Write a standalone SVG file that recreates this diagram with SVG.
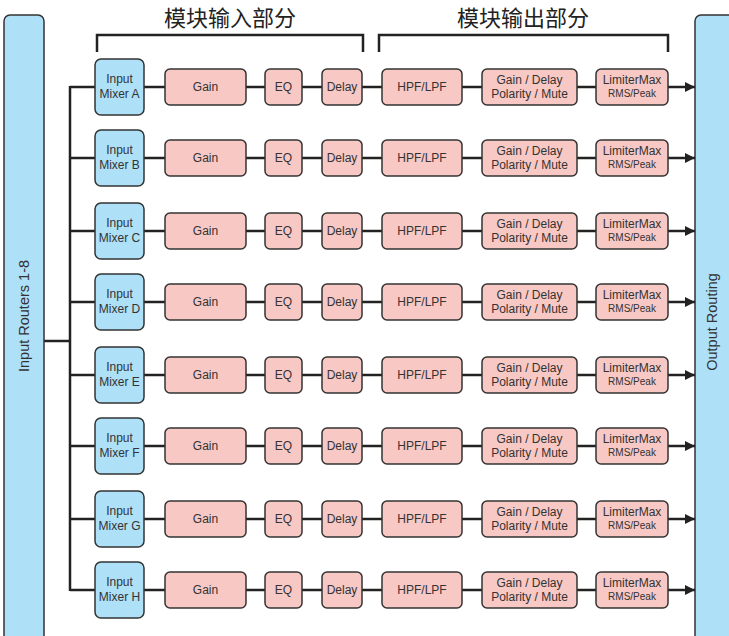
<svg xmlns="http://www.w3.org/2000/svg" width="729" height="636" viewBox="0 0 729 636">
<defs>
<style>
.blue{fill:#aee0f8;stroke:#333;stroke-width:1.5}
.pink{fill:#f8c8c4;stroke:#333;stroke-width:1.5}
.t{font-family:"Liberation Sans",Arial,sans-serif;font-size:12px;fill:#333;text-anchor:middle}
.s{font-size:10px}
.big{font-family:"Noto Sans CJK SC","Noto Sans CJK TC",sans-serif;font-size:22px;fill:#222;text-anchor:middle}
.side{font-family:"Liberation Sans",Arial,sans-serif;font-size:14.5px;fill:#333;text-anchor:middle}
.ln{stroke:#222;stroke-width:2.5;fill:none}
</style>
<marker id="ah" viewBox="0 0 10 10" refX="10" refY="5" markerWidth="4" markerHeight="4" markerUnits="strokeWidth" orient="auto"><path d="M0,0L10,5L0,10z" fill="#222"/></marker>
<g id="row">
<line class="ln" x1="70" y1="0" x2="95" y2="0"/>
<line class="ln" x1="144" y1="0" x2="165" y2="0"/>
<line class="ln" x1="246" y1="0" x2="265" y2="0"/>
<line class="ln" x1="302" y1="0" x2="322" y2="0"/>
<line class="ln" x1="362" y1="0" x2="382" y2="0"/>
<line class="ln" x1="462" y1="0" x2="482" y2="0"/>
<line class="ln" x1="577" y1="0" x2="596" y2="0"/>
<line class="ln" x1="668" y1="0" x2="695" y2="0" marker-end="url(#ah)"/>
<rect class="pink" x="165" y="-18" width="81" height="36" rx="5"/>
<text class="t" x="205.5" y="4">Gain</text>
<rect class="pink" x="265" y="-18" width="37" height="36" rx="5"/>
<text class="t" x="283.5" y="4">EQ</text>
<rect class="pink" x="322" y="-18" width="40" height="36" rx="5"/>
<text class="t" x="342" y="4">Delay</text>
<rect class="pink" x="382" y="-18" width="80" height="36" rx="5"/>
<text class="t" x="422" y="4">HPF/LPF</text>
<rect class="pink" x="482" y="-18" width="95" height="36" rx="5"/>
<text class="t" x="529.5" y="-3">Gain / Delay</text>
<text class="t" x="529.5" y="11">Polarity / Mute</text>
<rect class="pink" x="596" y="-18" width="72" height="36" rx="5"/>
<text class="t" x="632" y="-3">LimiterMax</text>
<text class="t s" x="632" y="10">RMS/Peak</text>
</g>
</defs>
<g id="title-in"><text class="big" x="230" y="26">模块输入部分</text><path class="ln" d="M97,52V35H363V52"/></g>
<g id="title-out"><text class="big" x="523" y="26">模块输出部分</text><path class="ln" d="M379,52V35H668V52"/></g>
<g id="connectors">
<line class="ln" x1="70" y1="86" x2="70" y2="591"/>
<line class="ln" x1="44" y1="341" x2="70" y2="341"/>
</g>
<g id="input-routers"><rect class="blue" x="4" y="15" width="40" height="640" rx="6"/>
<text class="side" transform="translate(29,316) rotate(-90)">Input Routers 1-8</text></g>
<g id="output-routing"><rect class="blue" x="695" y="15" width="50" height="640" rx="6"/>
<text class="side" transform="translate(717,322) rotate(-90)">Output Routing</text></g>
<g id="row-a"><use href="#row" y="87"/><rect class="blue" x="95" y="59" width="49" height="56" rx="6"/><text class="t" x="119.5" y="83">Input</text><text class="t" x="119.5" y="98">Mixer A</text></g>
<g id="row-b"><use href="#row" y="158"/><rect class="blue" x="95" y="130" width="49" height="56" rx="6"/><text class="t" x="119.5" y="154">Input</text><text class="t" x="119.5" y="169">Mixer B</text></g>
<g id="row-c"><use href="#row" y="231"/><rect class="blue" x="95" y="203" width="49" height="56" rx="6"/><text class="t" x="119.5" y="227">Input</text><text class="t" x="119.5" y="242">Mixer C</text></g>
<g id="row-d"><use href="#row" y="302"/><rect class="blue" x="95" y="274" width="49" height="56" rx="6"/><text class="t" x="119.5" y="298">Input</text><text class="t" x="119.5" y="313">Mixer D</text></g>
<g id="row-e"><use href="#row" y="375"/><rect class="blue" x="95" y="347" width="49" height="56" rx="6"/><text class="t" x="119.5" y="371">Input</text><text class="t" x="119.5" y="386">Mixer E</text></g>
<g id="row-f"><use href="#row" y="446"/><rect class="blue" x="95" y="418" width="49" height="56" rx="6"/><text class="t" x="119.5" y="442">Input</text><text class="t" x="119.5" y="457">Mixer F</text></g>
<g id="row-g"><use href="#row" y="519"/><rect class="blue" x="95" y="491" width="49" height="56" rx="6"/><text class="t" x="119.5" y="515">Input</text><text class="t" x="119.5" y="530">Mixer G</text></g>
<g id="row-h"><use href="#row" y="590"/><rect class="blue" x="95" y="562" width="49" height="56" rx="6"/><text class="t" x="119.5" y="586">Input</text><text class="t" x="119.5" y="601">Mixer H</text></g>
</svg>
